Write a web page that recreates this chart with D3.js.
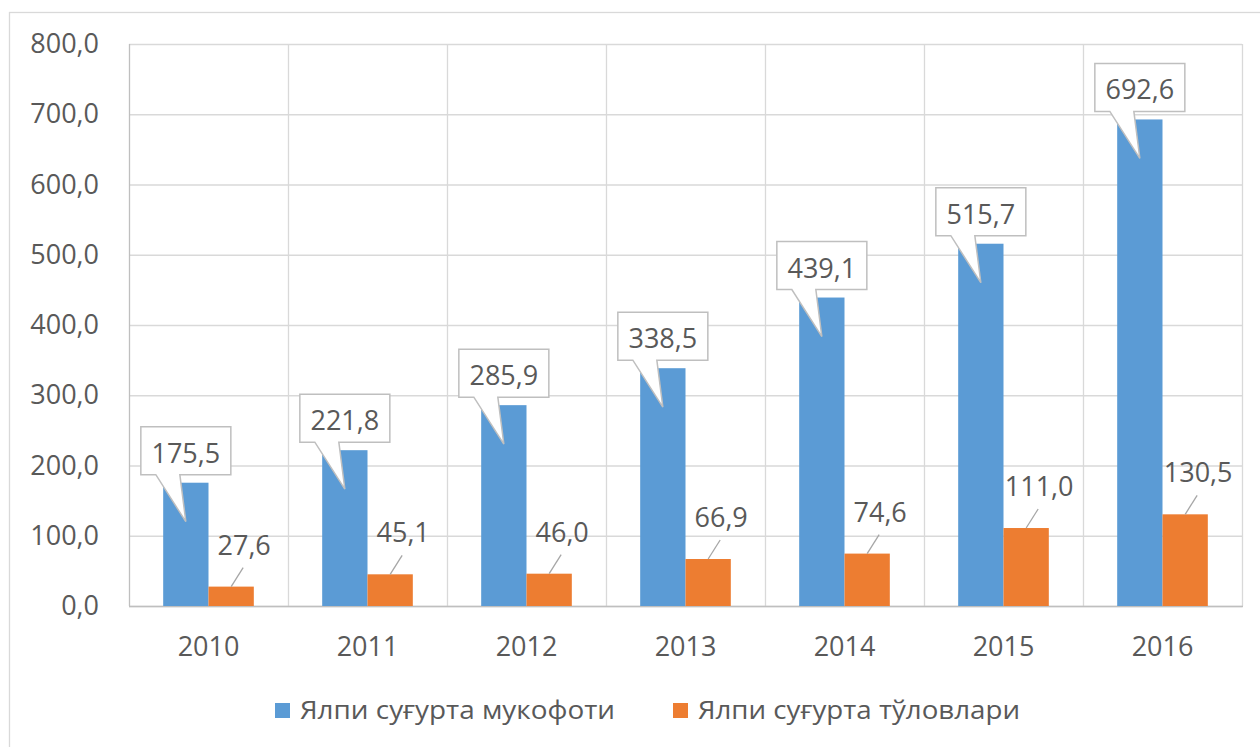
<!DOCTYPE html>
<html>
<head>
<meta charset="utf-8">
<script src="https://cdn.jsdelivr.net/npm/d3@7"></script>
<style>
  body { margin: 0; background: #fff; }
  text { font-family: "Open Sans", sans-serif; fill: #595959; }
</style>
</head>
<body>
<div class="canvas"></div>
<script>
// data
const years = ['2010', '2011', '2012', '2013', '2014', '2015', '2016'];
const premiums = [175.5, 221.8, 285.9, 338.5, 439.1, 515.7, 692.6];
const payouts = [27.6, 45.1, 46.0, 66.9, 74.6, 111.0, 130.5];
const seriesNames = ['Ялпи суғурта мукофоти', 'Ялпи суғурта тўловлари'];
const seriesColors = ['#5B9BD5', '#ED7D31'];
const yTicks = [0, 100, 200, 300, 400, 500, 600, 700, 800];

const dims = { width: 1260, height: 747 };
const plot = { left: 129, top: 44, right: 1242, bottom: 606 };

const locale = d3.formatLocale({ decimal: ',', thousands: ' ', grouping: [3], currency: ['', ''] });
const fmt = locale.format('.1f');

const svg = d3.select('.canvas')
    .append('svg')
    .attr('width', dims.width)
    .attr('height', dims.height);

// outer chart border
svg.append('rect')
    .attr('x', 9.5).attr('y', 12.5)
    .attr('width', 1300).attr('height', 800)
    .attr('fill', 'none')
    .attr('stroke', '#D9D9D9')
    .attr('stroke-width', 1.3);

const x = d3.scaleBand()
    .domain(years)
    .range([plot.left, plot.right])
    .padding(0);

const step = x.step();
const xInner = d3.scaleBand()
    .domain([0, 1])
    .range([step * 0.215, step * 0.785])
    .padding(0);

const y = d3.scaleLinear()
    .domain([0, 800])
    .range([plot.bottom, plot.top]);

// horizontal gridlines
svg.append('g')
    .selectAll('line')
    .data(yTicks)
    .enter().append('line')
      .attr('x1', plot.left).attr('x2', plot.right)
      .attr('y1', d => y(d) + 0.5).attr('y2', d => y(d) + 0.5)
      .attr('stroke', '#D9D9D9')
      .attr('stroke-width', 1.3);

// vertical gridlines at category boundaries
svg.append('g')
    .selectAll('line')
    .data(years.slice(1).concat(['end']))
    .enter().append('line')
      .attr('x1', d => (d === 'end' ? plot.right : x(d)) + 0.5)
      .attr('x2', d => (d === 'end' ? plot.right : x(d)) + 0.5)
      .attr('y1', plot.top).attr('y2', plot.bottom)
      .attr('stroke', '#D9D9D9')
      .attr('stroke-width', 1.3);

// y axis labels
const yAxis = d3.axisLeft(y)
    .tickValues(yTicks)
    .tickFormat(fmt)
    .tickSize(0)
    .tickPadding(30);

const yG = svg.append('g')
    .attr('transform', `translate(${plot.left},0)`)
    .call(yAxis);
yG.select('.domain').remove();
yG.selectAll('text')
    .attr('font-size', 27)
    .attr('fill', '#595959')
    .attr('font-family', '"Open Sans", sans-serif');

// axis lines
svg.append('line')
    .attr('x1', plot.left + 0.5).attr('x2', plot.left + 0.5)
    .attr('y1', plot.top).attr('y2', plot.bottom)
    .attr('stroke', '#BFBFBF').attr('stroke-width', 1.3);
svg.append('line')
    .attr('x1', plot.left).attr('x2', plot.right + 1)
    .attr('y1', plot.bottom + 0.5).attr('y2', plot.bottom + 0.5)
    .attr('stroke', '#BFBFBF').attr('stroke-width', 1.3);

// x axis labels
const xAxis = d3.axisBottom(x).tickSize(0).tickPadding(31);
const xG = svg.append('g')
    .attr('transform', `translate(0,${plot.bottom})`)
    .call(xAxis);
xG.select('.domain').remove();
xG.selectAll('text')
    .attr('font-size', 27)
    .attr('fill', '#595959')
    .attr('font-family', '"Open Sans", sans-serif');

// bars
const groups = svg.append('g')
    .selectAll('g')
    .data(years)
    .enter().append('g')
      .attr('transform', d => `translate(${x(d)},0)`);

groups.append('rect')
    .attr('x', xInner(0))
    .attr('width', xInner.bandwidth())
    .attr('y', (d, i) => y(premiums[i]))
    .attr('height', (d, i) => plot.bottom - y(premiums[i]))
    .attr('fill', seriesColors[0]);

groups.append('rect')
    .attr('x', xInner(1))
    .attr('width', xInner.bandwidth())
    .attr('y', (d, i) => y(payouts[i]))
    .attr('height', (d, i) => plot.bottom - y(payouts[i]))
    .attr('fill', seriesColors[1]);

// callout labels for the first series
const boxW = 90, boxH = 48;
groups.append('path')
    .attr('d', (d, i) => {
        const cx = xInner(0) + xInner.bandwidth() / 2;
        const top = y(premiums[i]);
        const x0 = cx - boxW / 2, x1 = cx + boxW / 2;
        const y1 = top - 8, y0 = y1 - boxH;
        return `M${x0},${y0} H${x1} V${y1} H${x0 + 39} L${cx},${top + 39} L${x0 + 15},${y1} H${x0} Z`;
    })
    .attr('fill', '#fff')
    .attr('stroke', '#BFBFBF')
    .attr('stroke-width', 1.5);

groups.append('text')
    .attr('x', xInner(0) + xInner.bandwidth() / 2)
    .attr('y', (d, i) => y(premiums[i]) - 20)
    .attr('text-anchor', 'middle')
    .attr('font-size', 27)
    .text((d, i) => fmt(premiums[i]));

// leader lines + labels for the second series
groups.append('line')
    .attr('x1', xInner(1) + xInner.bandwidth() / 2)
    .attr('y1', (d, i) => y(payouts[i]))
    .attr('x2', xInner(1) + xInner.bandwidth() / 2 + 12)
    .attr('y2', (d, i) => y(payouts[i]) - 19)
    .attr('stroke', '#A6A6A6')
    .attr('stroke-width', 1.3);

groups.append('text')
    .attr('x', xInner(1) + xInner.bandwidth() / 2 + 13)
    .attr('y', (d, i) => y(payouts[i]) - 32)
    .attr('text-anchor', 'middle')
    .attr('font-size', 27)
    .text((d, i) => fmt(payouts[i]));

// legend
const legendX = [275, 673];
const legendW = [315, 322];
const legend = svg.append('g')
    .selectAll('g')
    .data(seriesNames)
    .enter().append('g')
      .attr('transform', (d, i) => `translate(${legendX[i]},703)`);

legend.append('rect')
    .attr('width', 15).attr('height', 15)
    .attr('fill', (d, i) => seriesColors[i]);

legend.append('text')
    .attr('x', 25)
    .attr('y', 16)
    .attr('font-size', 25.5)
    .attr('textLength', (d, i) => legendW[i])
    .attr('lengthAdjust', 'spacingAndGlyphs')
    .text(d => d);
</script>
</body>
</html>
